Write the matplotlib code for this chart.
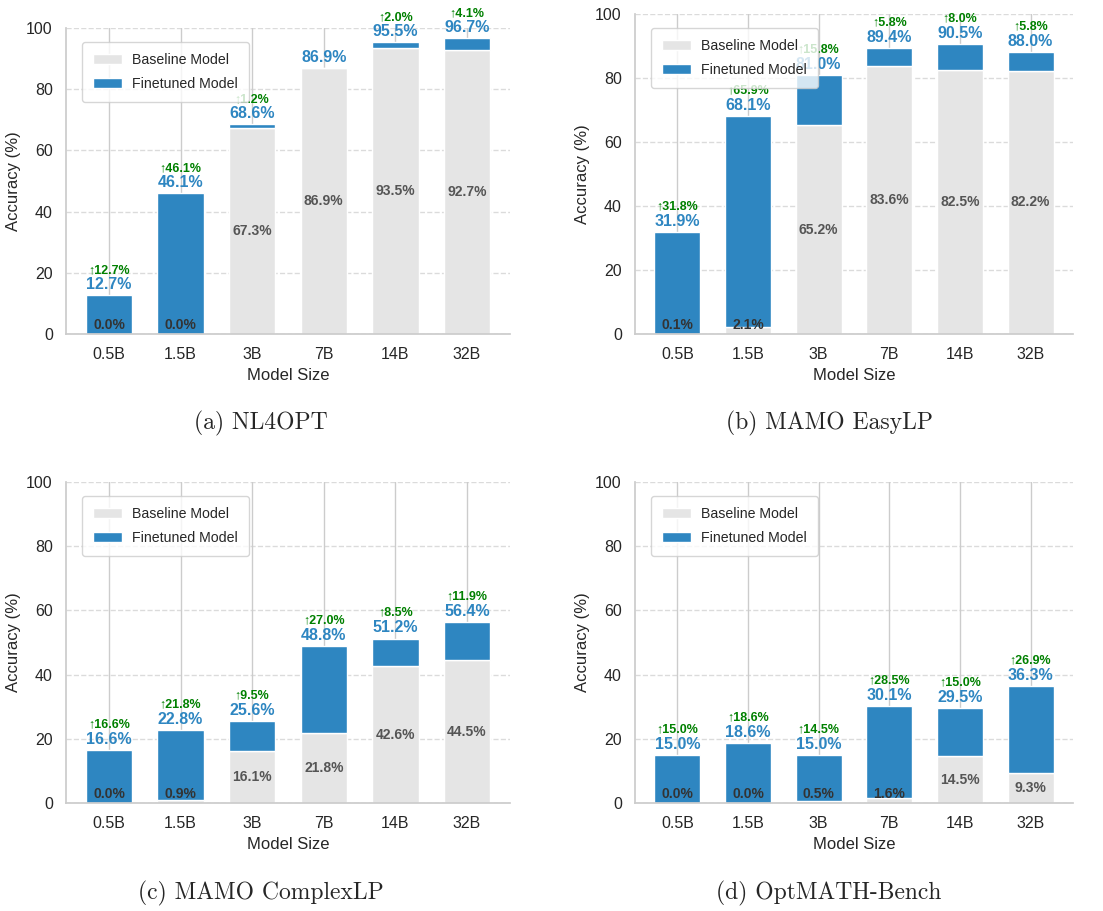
import matplotlib
matplotlib.use("Agg")
import matplotlib.pyplot as plt
import seaborn as sns
import numpy as np

sns.set_theme(style="whitegrid")
plt.rcParams['font.family'] = ['Liberation Sans', 'DejaVu Sans']

sizes = ['0.5B', '1.5B', '3B', '7B', '14B', '32B']

# accuracy (%)
nl4opt_base = [0.0, 0.0, 67.3, 86.9, 93.5, 92.7]
nl4opt_fine = [12.7, 46.1, 68.6, 86.9, 95.5, 96.7]
nl4opt_gain = [12.7, 46.1, 1.2, 0.0, 2.0, 4.1]

easylp_base = [0.1, 2.1, 65.2, 83.6, 82.5, 82.2]
easylp_fine = [31.9, 68.1, 81.0, 89.4, 90.5, 88.0]
easylp_gain = [31.8, 65.9, 15.8, 5.8, 8.0, 5.8]

complexlp_base = [0.0, 0.9, 16.1, 21.8, 42.6, 44.5]
complexlp_fine = [16.6, 22.8, 25.6, 48.8, 51.2, 56.4]
complexlp_gain = [16.6, 21.8, 9.5, 27.0, 8.5, 11.9]

optmath_base = [0.0, 0.0, 0.5, 1.6, 14.5, 9.3]
optmath_fine = [15.0, 18.6, 15.0, 30.1, 29.5, 36.3]
optmath_gain = [15.0, 18.6, 14.5, 28.5, 15.0, 26.9]

captions = ['(a) NL4OPT', '(b) MAMO EasyLP', '(c) MAMO ComplexLP', '(d) OptMATH-Bench']

BASE_COLOR = '#E5E5E5'
FT_COLOR = '#2E86C1'

W, H = 1103, 911

# axes box in pixels: left, right, top, bottom ; caption centre
panels = [
    (nl4opt_base, nl4opt_fine, nl4opt_gain, (66, 510, 28, 334), (261, 423)),
    (easylp_base, easylp_fine, easylp_gain, (635, 1073, 14, 334), (829, 423)),
    (complexlp_base, complexlp_fine, complexlp_gain, (66, 510, 482, 803), (261, 893)),
    (optmath_base, optmath_fine, optmath_gain, (635, 1073, 482, 803), (829, 893)),
]

fig = plt.figure(figsize=(W / 100, H / 100), dpi=100)

for (base, fine, gain, box, cap_xy), caption in zip(panels, captions):
    left, right, top, bottom = box
    aw, ah = right - left, bottom - top
    ax = fig.add_axes([left / W, 1 - bottom / H, aw / W, ah / H])
    x = np.arange(len(sizes))
    base = np.array(base)
    fine = np.array(fine)

    ax.bar(x, base, 0.65, color=BASE_COLOR, edgecolor='white', linewidth=1,
           label='Baseline Model')
    ax.bar(x, fine - base, 0.65, bottom=base, color=FT_COLOR, edgecolor='white',
           linewidth=1, label='Finetuned Model')

    for i in range(len(x)):
        yb = max(base[i] / 2, 2.8)
        col = '#333333' if base[i] < 5 else '#555555'
        ax.text(x[i], yb, f'{base[i]:.1f}%', ha='center', va='center',
                fontsize=10, fontweight='bold', color=col)
        ax.text(x[i], fine[i] + 1, f'{fine[i]:.1f}%', ha='center', va='bottom',
                fontsize=11.5, fontweight='bold', color=FT_COLOR)
        if gain[i] > 0:
            ax.text(x[i], fine[i] + 6.2, f'\u2191{gain[i]:.1f}%', ha='center',
                    va='bottom', fontsize=9, fontweight='bold', color='green')

    ax.set_xlim(-0.6, 5.6)
    ax.set_ylim(0, 100)
    ax.set_xticks(x)
    ax.set_xticklabels(sizes)
    ax.set_yticks(range(0, 101, 20))
    ax.tick_params(labelsize=11.5)
    ax.set_xlabel('Model Size', fontsize=12)
    ax.set_ylabel('Accuracy (%)', fontsize=12)
    ax.grid(axis='y', linestyle='--', alpha=0.7)
    ax.set_axisbelow(True)
    sns.despine(ax=ax)
    ax.legend(loc='upper left', bbox_to_anchor=(16 / aw, 1 - 14 / ah),
              borderaxespad=0, fontsize=10.2, borderpad=0.8, labelspacing=0.65,
              handletextpad=0.7)

    fig.text(cap_xy[0] / W, 1 - cap_xy[1] / H, caption, ha='center', va='center',
             fontsize=17, family='cmr10')

fig.savefig('out.png', dpi=100)
